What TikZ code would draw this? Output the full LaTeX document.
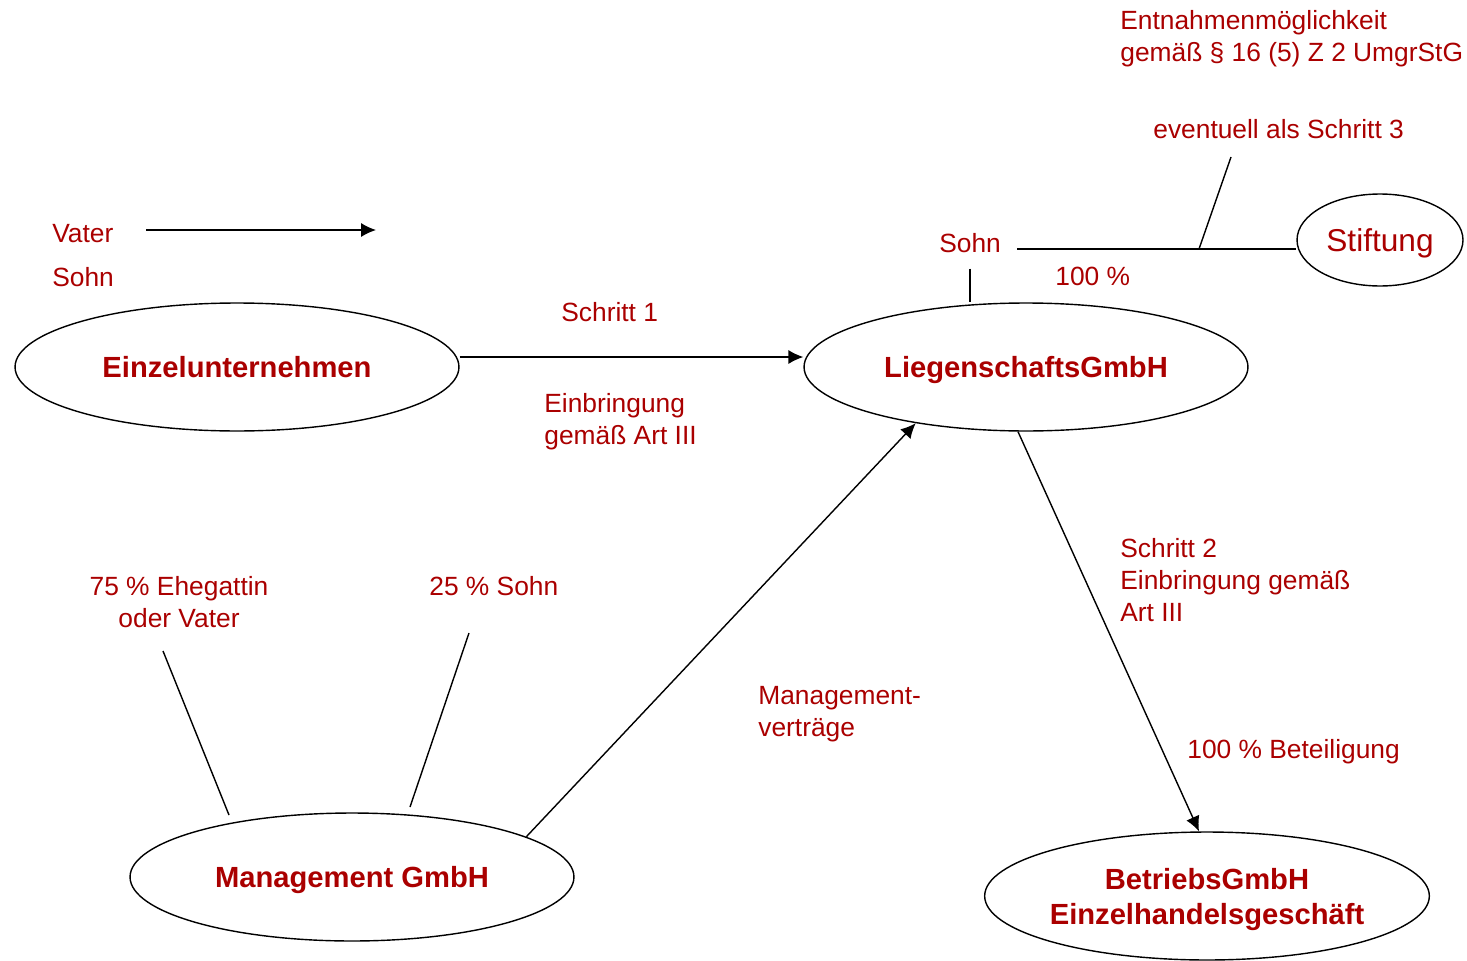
\documentclass[tikz,border=0pt]{standalone}
\usepackage{fontspec}
\setmainfont{Liberation Sans}
\usetikzlibrary{shapes.geometric,arrows.meta}
\definecolor{dunkelrot}{RGB}{170,0,0}
\tikzset{
  firma/.style={draw, ellipse, line width=0.8pt, minimum width=8.88cm, minimum height=2.56cm, inner sep=0pt, text depth=0pt, text=dunkelrot, font=\fontsize{16.6}{20}\selectfont\bfseries, align=center},
  beschr/.style={text=dunkelrot, font=\fontsize{15}{18.2}\selectfont, inner sep=0pt},
  linie/.style={line width=0.8pt},
}
\begin{document}
\begin{tikzpicture}[x=0.02cm, y=-0.02cm, >={Latex[length=8.5pt,width=8pt]}]
\useasboundingbox (0,0) rectangle (1467,960);
\node[firma] (einzel) at (237,367) {Einzelunternehmen};
\node[firma] (liegen) at (1026,367) {LiegenschaftsGmbH};
\node[firma] (mgmt) at (352,877) {Management GmbH};
\node[firma] (betrieb) at (1207,896) {BetriebsGmbH\\Einzelhandelsgeschäft};
\node[firma, minimum width=3.32cm, minimum height=1.84cm, font=\fontsize{18}{21}\selectfont] (stiftung) at (1380,240) {Stiftung};
\node[beschr, anchor=base west] (vater) at (52,242) {Vater};
\node[beschr, anchor=base west] (sohnU) at (52,286) {Sohn};
\node[beschr, anchor=base west] (schritt1) at (561,321) {Schritt 1};
\node[beschr, anchor=north west, align=left] (art1) at (544,393) {Einbringung\\gemäß Art III};
\node[beschr, anchor=base west] (sohnO) at (939,252) {Sohn};
\node[beschr, anchor=base west] (hundert) at (1055,285) {100 \%};
\node[beschr, anchor=base west] (eventuell) at (1153,138) {eventuell als Schritt 3};
\node[beschr, anchor=north west, align=left] (entnahme) at (1120,10) {Entnahmenmöglichkeit\\gemäß § 16 (5) Z 2 UmgrStG};
\node[beschr, anchor=north, align=center] (ehegattin) at (179,576) {75 \% Ehegattin\\oder Vater};
\node[beschr, anchor=base west] (sohn25) at (429,595) {25 \% Sohn};
\node[beschr, anchor=north west, align=left] (art2) at (1120,538) {Schritt 2\\Einbringung gemäß\\Art III};
\node[beschr, anchor=north west, align=left] (vertrag) at (758,686) {Management-\\verträge};
\node[beschr, anchor=base west] (beteil) at (1187,758) {100 \% Beteiligung};
\coordinate (pfeilA) at (146,230);
\coordinate (pfeilB) at (376,230);
\coordinate (sohnE) at (1017,249);
\coordinate (abzw) at (1199,249);
\coordinate (schritt3) at (1231,157);
\coordinate (ehe1) at (163,651);
\coordinate (ehe2) at (229,815);
\coordinate (so1) at (469,633);
\coordinate (so2) at (410,807);
\draw[linie, ->] (pfeilA) -- (pfeilB);
\draw[linie, ->] ([yshift=0.2cm]einzel.east) -- ([yshift=0.2cm]liegen.west);
\draw[linie, ->] (mgmt.13.5) -- (liegen.207);
\draw[linie, ->] ([xshift=-0.16cm]liegen.south) -- ([xshift=-0.16cm]betrieb.north);
\draw[linie] ([yshift=-0.32cm]sohnO.south) -- (sohnO.south |- liegen.north);
\draw[linie] (sohnE) -- (sohnE -| stiftung.west);
\draw[linie] (abzw) -- (schritt3);
\draw[linie] (ehe1) -- (ehe2);
\draw[linie] (so1) -- (so2);
\end{tikzpicture}
\end{document}
